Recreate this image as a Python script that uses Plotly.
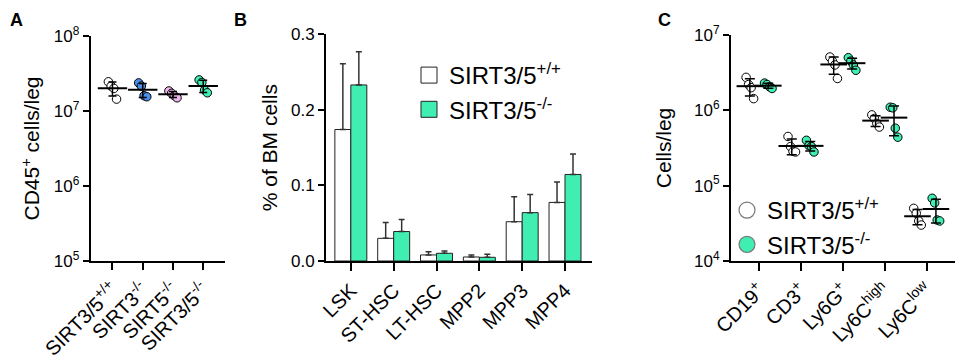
import numpy as np
import plotly.graph_objects as go

FONT = "Liberation Sans, Arial, sans-serif"
GREEN = "#40EEB2"
BLUE = "#4A8FE7"
PINK = "#F2B6EC"

# ---------------- Panel A data ----------------
a_groups = ["SIRT3/5<sup>+/+</sup>", "SIRT3<sup>-/-</sup>", "SIRT5<sup>-/-</sup>", "SIRT3/5<sup>-/-</sup>"]
a_wt = [2.45e7, 2.15e7, 2.0e7, 1.44e7]
a_sirt3 = [2.37e7, 2.15e7, 1.6e7, 1.55e7]
a_sirt5 = [1.85e7, 1.72e7, 1.6e7, 1.5e7]
a_sirt35 = [2.6e7, 2.4e7, 1.9e7, 1.75e7]
a_values = [a_wt, a_sirt3, a_sirt5, a_sirt35]
a_colors = ["white", BLUE, PINK, GREEN]

# ---------------- Panel B data ----------------
b_cats = ["LSK", "ST-HSC", "LT-HSC", "MPP2", "MPP3", "MPP4"]
b_wt_mean = [0.174, 0.030, 0.008, 0.0053, 0.052, 0.0775]
b_wt_sd = [0.087, 0.021, 0.0044, 0.0026, 0.033, 0.027]
b_ko_mean = [0.233, 0.039, 0.0102, 0.0049, 0.064, 0.1145]
b_ko_sd = [0.044, 0.016, 0.003, 0.0039, 0.024, 0.027]

# ---------------- Panel C data ----------------
c_cats = ["CD19<sup>+</sup>", "CD3<sup>+</sup>", "Ly6G<sup>+</sup>", "Ly6C<sup>high</sup>", "Ly6C<sup>low</sup>"]
c_wt = [
    [2.74e6, 2.2e6, 2.0e6, 1.43e6],
    [4.5e5, 3.3e5, 2.85e5, 2.8e5],
    [5.1e6, 4.5e6, 4.0e6, 2.65e6],
    [8.7e5, 7.8e5, 6.7e5, 6.0e5],
    [5.0e4, 4.3e4, 3.4e4, 3.0e4],
]
c_ko = [
    [2.3e6, 2.2e6, 2.05e6, 1.95e6],
    [4.0e5, 3.4e5, 3.3e5, 2.8e5],
    [5.0e6, 4.5e6, 4.0e6, 3.4e6],
    [1.1e6, 1.08e6, 5.8e5, 4.4e5],
    [6.8e4, 5.9e4, 3.5e4, 3.4e4],
]

legend_labels = ["SIRT3/5<sup>+/+</sup>", "SIRT3/5<sup>-/-</sup>"]


def swarm(vals, center, step):
    vals = np.asarray(vals)
    n = len(vals)
    order = np.argsort(vals)[::-1]
    xs = np.empty(n)
    for rank, idx in enumerate(order):
        xs[idx] = center + (rank - (n - 1) / 2) * step
    return xs


fig = go.Figure()


def add_group(vals, center, color, step, xa, ya, mean_size, cap):
    xs = swarm(vals, center, step)
    fig.add_trace(go.Scatter(
        x=xs, y=vals, mode="markers", xaxis=xa, yaxis=ya, showlegend=False,
        marker=dict(size=8.5, color=color, line=dict(color="black", width=1)),
        hoverinfo="y"))
    m = float(np.mean(vals))
    sd = float(np.std(vals, ddof=1))
    fig.add_trace(go.Scatter(
        x=[center], y=[m], mode="markers", xaxis=xa, yaxis=ya, showlegend=False,
        marker=dict(symbol="line-ew", size=mean_size, line=dict(color="black", width=2)),
        error_y=dict(type="data", array=[sd], visible=True, color="black", thickness=1.5, width=cap)))


# Panel A
for i, vals in enumerate(a_values):
    add_group(vals, i, a_colors[i], 0.09, "x", "y", 21, 4)

# Panel B bars
fig.add_trace(go.Bar(
    x=b_cats, y=b_wt_mean, xaxis="x2", yaxis="y2", showlegend=False, name=legend_labels[0],
    marker=dict(color="white", line=dict(color="#222", width=1)),
    error_y=dict(type="data", symmetric=False, array=b_wt_sd, arrayminus=[0] * len(b_cats),
                 color="#333", thickness=1.5, width=3)))
fig.add_trace(go.Bar(
    x=b_cats, y=b_ko_mean, xaxis="x2", yaxis="y2", showlegend=False, name=legend_labels[1],
    marker=dict(color=GREEN, line=dict(color="#222", width=1)),
    error_y=dict(type="data", symmetric=False, array=b_ko_sd, arrayminus=[0] * len(b_cats),
                 color="#333", thickness=1.5, width=3)))
# Legend entries for B
for lab, col in zip(legend_labels, ["white", GREEN]):
    fig.add_trace(go.Scatter(
        x=[None], y=[None], mode="markers", xaxis="x2", yaxis="y2", name=lab, legend="legend",
        marker=dict(symbol="square", size=16, color=col, line=dict(color="#222", width=1))))

# Panel C
for i in range(len(c_cats)):
    add_group(c_wt[i], i - 0.22, "white", 0.06, "x3", "y3", 19, 5)
    add_group(c_ko[i], i + 0.22, GREEN, 0.06, "x3", "y3", 19, 5)
for lab, col in zip(legend_labels, ["white", GREEN]):
    fig.add_trace(go.Scatter(
        x=[None], y=[None], mode="markers", xaxis="x3", yaxis="y3", name=lab, legend="legend2",
        marker=dict(symbol="circle", size=16, color=col, line=dict(color="#777", width=1.2))))

W, H = 957, 360


def px_x(a, b):
    return [a / W, b / W]


def px_y(top, bottom):
    return [(H - bottom) / H, (H - top) / H]


axis_common = dict(showline=True, linecolor="black", linewidth=2, ticks="outside",
                   tickcolor="black", tickwidth=2, showgrid=False, zeroline=False,
                   mirror=False, automargin=False)
xtickfont = dict(family=FONT, size=20, color="black")
ytickfont = dict(family=FONT, size=17, color="black")
titlefont = dict(family=FONT, size=21, color="black")

log_vals_a = [1e5, 1e6, 1e7, 1e8]
log_text_a = ["10<sup>5</sup>", "10<sup>6</sup>", "10<sup>7</sup>", "10<sup>8</sup>"]
log_vals_c = [1e4, 1e5, 1e6, 1e7]
log_text_c = ["10<sup>4</sup>", "10<sup>5</sup>", "10<sup>6</sup>", "10<sup>7</sup>"]

fig.update_layout(
    width=W, height=H, margin=dict(l=0, r=0, t=0, b=0, autoexpand=False),
    paper_bgcolor="white", plot_bgcolor="white",
    font=dict(family=FONT, color="black"),
    barmode="group", bargap=0.254, bargroupgap=0,
    xaxis=dict(domain=px_x(90.7, 225), anchor="y", range=[-0.72, 3.72],
               tickvals=list(range(len(a_groups))), ticktext=a_groups, tickangle=-45,
               ticklen=7, tickfont=xtickfont, **axis_common),
    yaxis=dict(domain=px_y(36, 261), anchor="x", type="log", range=[5, 8],
               tickvals=log_vals_a, ticktext=log_text_a, ticklen=6, tickfont=ytickfont,
               title=dict(text="CD45<sup>+</sup> cells/leg", font=titlefont, standoff=8),
               **axis_common),
    xaxis2=dict(domain=px_x(326, 592), anchor="y2", range=[-0.58, 5.63], type="category",
                tickangle=-45, ticklen=8, tickfont=xtickfont, **axis_common),
    yaxis2=dict(domain=px_y(34.3, 261), anchor="x2", range=[0, 0.3], dtick=0.1,
                tickformat=".1f", ticklen=6, tickfont=ytickfont,
                title=dict(text="% of BM cells", font=titlefont, standoff=8), **axis_common),
    xaxis3=dict(domain=px_x(731, 955), anchor="y3", range=[-0.67, 4.675],
                tickvals=list(range(len(c_cats))), ticktext=c_cats, tickangle=-45,
                ticklen=8, tickfont=xtickfont, **axis_common),
    yaxis3=dict(domain=px_y(35, 261), anchor="x3", type="log", range=[4, 7],
                tickvals=log_vals_c, ticktext=log_text_c, ticklen=6, tickfont=ytickfont,
                title=dict(text="Cells/leg", font=titlefont, standoff=17), **axis_common),
    legend=dict(x=409 / W, y=1 - 53 / H, xanchor="left", yanchor="top",
                bgcolor="rgba(0,0,0,0)", font=dict(family=FONT, size=24, color="black"),
                itemclick=False, itemdoubleclick=False),
    legend2=dict(x=727 / W, y=1 - 188 / H, xanchor="left", yanchor="top",
                 bgcolor="rgba(0,0,0,0)", font=dict(family=FONT, size=24, color="black"),
                 itemclick=False, itemdoubleclick=False),
    annotations=[
        dict(text="<b>A</b>", x=8 / W, y=1 - 8 / H, xref="paper", yref="paper",
             xanchor="left", yanchor="top", showarrow=False, font=dict(family=FONT, size=18)),
        dict(text="<b>B</b>", x=232 / W, y=1 - 8 / H, xref="paper", yref="paper",
             xanchor="left", yanchor="top", showarrow=False, font=dict(family=FONT, size=18)),
        dict(text="<b>C</b>", x=656 / W, y=1 - 8 / H, xref="paper", yref="paper",
             xanchor="left", yanchor="top", showarrow=False, font=dict(family=FONT, size=18)),
    ],
)

fig.write_html(
    "out.html",
    config={"displayModeBar": False},
    post_script="document.body.style.margin='0';document.body.style.overflow='hidden';",
)
